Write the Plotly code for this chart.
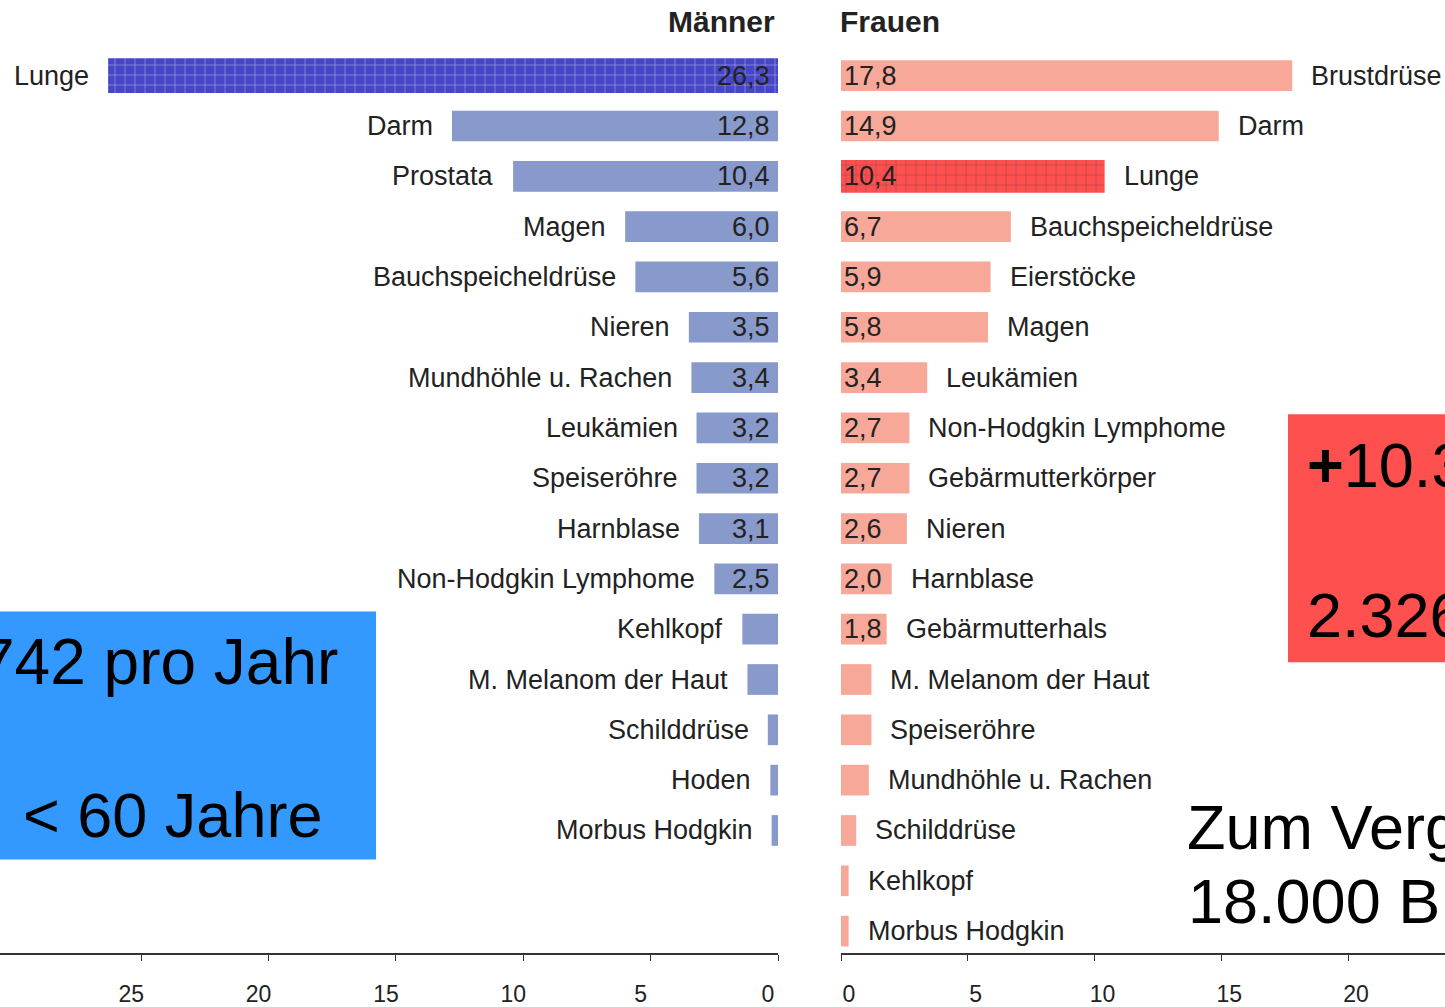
import plotly.graph_objects as go

# ---------------- data ----------------
men_cats = ["Lunge", "Darm", "Prostata", "Magen", "Bauchspeicheldrüse", "Nieren",
            "Mundhöhle u. Rachen", "Leukämien", "Speiseröhre", "Harnblase",
            "Non-Hodgkin Lymphome", "Kehlkopf", "M. Melanom der Haut", "Schilddrüse",
            "Hoden", "Morbus Hodgkin"]
men_vals = [26.3, 12.8, 10.4, 6.0, 5.6, 3.5, 3.4, 3.2, 3.2, 3.1, 2.5, 1.4, 1.2, 0.4, 0.3, 0.25]

women_cats = ["Brustdrüse", "Darm", "Lunge", "Bauchspeicheldrüse", "Eierstöcke", "Magen",
              "Leukämien", "Non-Hodgkin Lymphome", "Gebärmutterkörper", "Nieren",
              "Harnblase", "Gebärmutterhals", "M. Melanom der Haut", "Speiseröhre",
              "Mundhöhle u. Rachen", "Schilddrüse", "Kehlkopf", "Morbus Hodgkin"]
women_vals = [17.8, 14.9, 10.4, 6.7, 5.9, 5.8, 3.4, 2.7, 2.7, 2.6, 2.0, 1.8, 1.2, 1.2, 1.1, 0.6, 0.3, 0.3]

highlight = "Lunge"
men_ticks = [0, 5, 10, 15, 20, 25]
women_ticks = [0, 5, 10, 15, 20]
titles = ["Männer", "Frauen"]
blue_texts = ["742 pro Jahr", "&lt; 60 Jahre"]
red_texts = ["<b>+</b>10.3", "2.326"]
note_texts = ["Zum Verg", "18.000 B"]

# ---------------- style ----------------
W, H = 1445, 1007
FONT = "Liberation Sans, Arial, Helvetica, sans-serif"
TXT = "#222222"
MEN_C, MEN_HI, MEN_HI_FG = "#8899CC", "#4646C6", "#12129C"
WOM_C, WOM_HI, WOM_HI_FG = "#F7A899", "#FF4F4F", "#E01010"
PLOT_BOTTOM = 957  # px of axis line
LBL = 27


def label(v, pad=""):
    return (f"{v:.1f}".replace(".", ",") + pad) if v >= 1.5 else ""


def px_x(p):
    return p / W


def px_y(p):
    return 1 - p / PLOT_BOTTOM


men_y = list(range(len(men_cats)))
women_y = list(range(len(women_cats)))

fig = go.Figure()

fig.add_trace(go.Bar(
    x=men_vals, y=men_y, orientation="h", xaxis="x", yaxis="y",
    width=[0.69 if c == highlight else 0.61 for c in men_cats],
    marker=dict(
        color=[MEN_HI if c == highlight else MEN_C for c in men_cats],
        line=dict(width=0),
        pattern=dict(shape=["+" if c == highlight else "" for c in men_cats],
                     fgcolor=MEN_HI_FG, size=10, solidity=0.12, fillmode="overlay"),
    ),
    text=[label(v, "\u2009") for v in men_vals], textposition="inside", insidetextanchor="start",
    textangle=0, constraintext="none",
    textfont=dict(family=FONT, size=LBL, color=TXT),
    hoverinfo="skip", showlegend=False,
))

fig.add_trace(go.Bar(
    x=women_vals, y=women_y, orientation="h", xaxis="x2", yaxis="y",
    width=[0.65 if c == highlight else 0.61 for c in women_cats],
    marker=dict(
        color=[WOM_HI if c == highlight else WOM_C for c in women_cats],
        line=dict(width=0),
        pattern=dict(shape=["+" if c == highlight else "" for c in women_cats],
                     fgcolor=WOM_HI_FG, size=10, solidity=0.12, fillmode="overlay"),
    ),
    text=[label(v) for v in women_vals], textposition="inside", insidetextanchor="start",
    textangle=0, constraintext="none",
    textfont=dict(family=FONT, size=LBL, color=TXT),
    hoverinfo="skip", showlegend=False,
))

annotations = []
for c, v, y in zip(men_cats, men_vals, men_y):
    annotations.append(dict(x=v, y=y, xref="x", yref="y", text=c, showarrow=False,
                            xanchor="right", yanchor="middle", xshift=-17,
                            font=dict(family=FONT, size=LBL, color=TXT)))
for c, v, y in zip(women_cats, women_vals, women_y):
    annotations.append(dict(x=v, y=y, xref="x2", yref="y", text=c, showarrow=False,
                            xanchor="left", yanchor="middle", xshift=17,
                            font=dict(family=FONT, size=LBL, color=TXT)))

annotations.append(dict(x=px_x(777), y=px_y(22), xref="paper", yref="paper", text=f"<b>{titles[0]}</b>",
                        showarrow=False, xanchor="right", yanchor="middle",
                        font=dict(family=FONT, size=30, color=TXT)))
annotations.append(dict(x=px_x(838), y=px_y(22), xref="paper", yref="paper", text=f"<b>{titles[1]}</b>",
                        showarrow=False, xanchor="left", yanchor="middle",
                        font=dict(family=FONT, size=30, color=TXT)))

big = dict(family=FONT, size=63, color="#000000")
annotations += [
    dict(x=px_x(340), y=px_y(665), xref="paper", yref="paper", text=blue_texts[0], showarrow=False,
         xanchor="right", yanchor="middle", font=dict(family=FONT, size=64, color="#000000")),
    dict(x=px_x(324), y=px_y(818), xref="paper", yref="paper", text=blue_texts[1], showarrow=False,
         xanchor="right", yanchor="middle", font=big),
    dict(x=px_x(1305), y=px_y(467), xref="paper", yref="paper", text=red_texts[0], showarrow=False,
         xanchor="left", yanchor="middle", font=big),
    dict(x=px_x(1305), y=px_y(618), xref="paper", yref="paper", text=red_texts[1], showarrow=False,
         xanchor="left", yanchor="middle", font=big),
    dict(x=px_x(1185), y=px_y(830), xref="paper", yref="paper", text=note_texts[0], showarrow=False,
         xanchor="left", yanchor="middle", font=big),
    dict(x=px_x(1186), y=px_y(905), xref="paper", yref="paper", text=note_texts[1], showarrow=False,
         xanchor="left", yanchor="middle", font=big),
]

shapes = [
    dict(type="rect", xref="paper", yref="paper", x0=0, x1=px_x(376),
         y0=px_y(863), y1=px_y(614), fillcolor="#3399FF", line=dict(width=0), layer="below"),
    dict(type="rect", xref="paper", yref="paper", x0=px_x(1288), x1=1,
         y0=px_y(665), y1=px_y(416), fillcolor="#FF5050", line=dict(width=0), layer="below"),
]

axis_common = dict(showgrid=False, zeroline=False, showline=True, linecolor="#333333", linewidth=1.5,
                   ticks="outside", ticklen=6, tickwidth=1, tickcolor="#333333",
                   tickfont=dict(family=FONT, size=23, color=TXT), ticklabelstandoff=14,
                   fixedrange=True)

row_px = 50.53
top_row_px = 76

fig.update_layout(
    width=W, height=H,
    margin=dict(l=0, r=0, t=0, b=H - PLOT_BOTTOM),
    paper_bgcolor="white", plot_bgcolor="rgba(0,0,0,0)",
    barmode="overlay",
    xaxis=dict(domain=[0, 778 / W], range=[778 / 25.47, 0], tickvals=men_ticks,
               ticklabelshift=10, anchor="y", **axis_common),
    xaxis2=dict(domain=[841 / W, 1], range=[0, (W - 841) / 25.35], tickvals=women_ticks,
                ticklabelshift=8, anchor="y", **axis_common),
    yaxis=dict(range=[(PLOT_BOTTOM - top_row_px) / row_px, -top_row_px / row_px], visible=False,
               fixedrange=True),
    annotations=annotations,
    shapes=shapes,
)

post = ("document.documentElement.style.overflow='hidden';"
        "document.body.style.margin='0';document.body.style.overflow='hidden';"
        "var d=document.getElementById('{plot_id}');d.style.overflow='hidden';"
        "d.style.width='1445px';d.style.height='1007px';")
fig.write_html("out.html", config={"displayModeBar": False}, post_script=post)
